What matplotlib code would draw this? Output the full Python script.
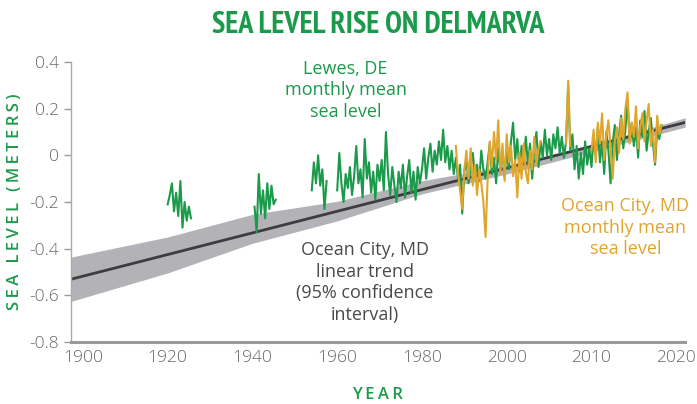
import numpy as np
import matplotlib
matplotlib.use("Agg")
import matplotlib.pyplot as plt
from matplotlib import font_manager

# x positions follow the evenly spaced axis of the original chart
x_ticks = [1900, 1920, 1940, 1960, 1980, 2000, 2020, 2040]
x_labels = ["1900", "1920", "1940", "1960", "1980", "2000", "2010", "2020"]
y_ticks = [0.4, 0.2, 0.0, -0.2, -0.4, -0.6, -0.8]
y_labels = ["0.4", "0.2", "0", "-0.2", "-0.4", "-0.6", "-0.8"]

# Lewes, DE monthly mean sea level (half-step spacing)
lewes_a_start = 1920.0
lewes_a = [-0.21, -0.17, -0.12, -0.24, -0.16, -0.26, -0.11, -0.31, -0.20, -0.28, -0.22, -0.27]
lewes_b_start = 1940.5
lewes_b = [-0.22, -0.33, -0.08, -0.25, -0.15, -0.27, -0.12, -0.23, -0.13, -0.21, -0.19]
lewes_c_start = 1954.0
lewes_c = [-0.15, -0.03, -0.12, 0.00, -0.13, -0.06, -0.23, -0.11]
lewes_d_start = 1960.0
lewes_d = [
    -0.15, 0.01, -0.12, -0.20, -0.08, -0.14, -0.05, -0.17, -0.09, 0.04,
    -0.12, -0.06, -0.18, 0.07, -0.10, -0.03, -0.16, -0.07, -0.19, -0.04,
    -0.11, -0.02, -0.15, 0.10, -0.08, -0.17, -0.05, -0.13, -0.20, -0.07,
    -0.14, -0.04, -0.18, -0.09, -0.02, -0.16, -0.07, -0.19, -0.05, -0.12,
    -0.06, 0.03, -0.10, -0.01, 0.05, -0.07, 0.02, -0.04, 0.06, -0.02,
    0.11, -0.03, 0.04, -0.06, 0.02, -0.08, -0.01, -0.10, -0.04, -0.25,
    -0.07, -0.02, -0.12, -0.05, 0.01, -0.09, -0.04, -0.11, 0.02, -0.06,
    -0.10, -0.03, 0.05, -0.08, -0.01, -0.12, 0.03, -0.06, 0.01, -0.09,
    0.02, -0.06, 0.06, 0.14, -0.02, 0.07, -0.07, 0.04, -0.03, 0.08,
    -0.04, 0.05, -0.10, 0.02, 0.10, -0.05, 0.06, -0.01, 0.11, 0.00,
    0.07, -0.02, 0.09, 0.03, 0.12, 0.01, 0.08, -0.01, 0.06, 0.30,
    0.02, 0.09, -0.06, 0.04, -0.10, 0.01, -0.08, 0.06, -0.04, 0.03,
    -0.05, 0.08, 0.00, 0.12, -0.03, 0.06, -0.08, 0.10, 0.02, -0.12,
    0.05, 0.13, -0.02, 0.09, 0.17, 0.03, 0.11, 0.24, 0.06, 0.14,
    0.04, 0.12, -0.01, 0.15, 0.08, 0.19, 0.02, 0.10, 0.16, 0.05,
    -0.04, 0.11, 0.07, 0.13,
]

# Ocean City, MD monthly mean sea level
ocean_a_start = 1988.0
ocean_a = [
    0.04, -0.08, -0.15, -0.23, -0.06, 0.02, -0.10, 0.03, -0.13, -0.04,
    -0.17, -0.06, -0.12, -0.20, -0.35, -0.10, 0.06, -0.05, 0.10, -0.02,
    0.15, -0.08, 0.05, -0.11, 0.09, -0.03, 0.04, -0.09, -0.02, -0.18,
    0.01, -0.10, 0.05, -0.07, -0.12, 0.02, -0.06, 0.08, -0.04, 0.03,
    0.06,
]
ocean_b_start = 2014.0
ocean_b = [0.05, 0.32, 0.04]
ocean_c_start = 2020.0
ocean_c = [
    0.02, 0.11, -0.03, 0.14, 0.05, 0.18, -0.02, 0.09, 0.15, 0.03,
    -0.10, 0.06, 0.12, 0.01, 0.16, 0.07, 0.20, 0.27, 0.05, 0.14,
    0.08, 0.21, 0.03, 0.12, 0.18, 0.06, 0.15, 0.22, 0.04, 0.11,
    -0.03, 0.17, 0.09, 0.13,
]

# Ocean City linear trend and 95% confidence band
trend_x = [1897.2, 2042.1]
trend_y = [-0.531, 0.141]
band_x = [1897.2, 1920, 1940, 1960, 1980, 2000, 2020, 2042.1]
band_lo = [-0.626, -0.504, -0.377, -0.281, -0.165, -0.080, 0.015, 0.121]
band_hi = [-0.436, -0.350, -0.253, -0.197, -0.109, -0.044, 0.045, 0.161]

GREEN = "#1a9a4a"
ORANGE = "#e0a52b"
GRAY_TXT = "#666666"

plt.rcParams['font.family'] = ['Open Sans', 'DejaVu Sans']

# pick a narrow, heavy face for the title
def weight_num(f):
    w = f.weight
    if isinstance(w, str):
        return font_manager.weight_dict.get(w, 400)
    return w

def name_rank(f):
    if 'Narrow' in f.name:
        return 0
    if 'Condensed' in f.name:
        return 1
    if f.stretch in ('condensed', 'semi-condensed', 'extra-condensed'):
        return 3
    return 9

cands = [f for f in font_manager.fontManager.ttflist
         if name_rank(f) < 9 and f.style == 'normal']
cands.sort(key=lambda f: (name_rank(f), -weight_num(f), f.fname))
if cands:
    title_font = font_manager.FontProperties(fname=cands[0].fname, size=21.8)
else:
    title_font = font_manager.FontProperties(family=['Roboto', 'DejaVu Sans'],
                                             weight='bold', size=17)

fig = plt.figure(figsize=(6.97, 4.04), dpi=100)
ax = fig.add_axes([0.1019, 0.1535, 0.8811, 0.693])

ax.fill_between(band_x, band_lo, band_hi, color="#b3b3b7", lw=0, zorder=1)
ax.plot(trend_x, trend_y, color="#3d3d3f", lw=2.0, zorder=2)

def seg(start, vals):
    return start + 0.5 * np.arange(len(vals)), np.array(vals)

for start, vals in [(lewes_a_start, lewes_a), (lewes_b_start, lewes_b),
                    (lewes_c_start, lewes_c), (lewes_d_start, lewes_d)]:
    xs, ys = seg(start, vals)
    ax.plot(xs, ys, color=GREEN, lw=1.5, zorder=3)

for start, vals in [(ocean_a_start, ocean_a), (ocean_b_start, ocean_b),
                    (ocean_c_start, ocean_c)]:
    xs, ys = seg(start, vals)
    ax.plot(xs, ys, color=ORANGE, lw=1.5, zorder=4)

ax.set_xlim(1897.2, 2042.1)
ax.set_ylim(-0.8, 0.4)
ax.set_xticks(x_ticks)
ax.set_xticklabels(x_labels)
ax.set_yticks(y_ticks)
ax.set_yticklabels(y_labels)
ax.tick_params(axis='x', length=0, pad=6, labelsize=12.5, labelcolor=GRAY_TXT)
ax.tick_params(axis='y', length=5, width=1, color="#999999", pad=4,
               labelsize=12.5, labelcolor=GRAY_TXT)
for lab in ax.get_xticklabels() + ax.get_yticklabels():
    lab.set_fontweight('light')

for s in ['top', 'right']:
    ax.spines[s].set_visible(False)
ax.spines['left'].set_color("#aaaaaa")
ax.spines['left'].set_linewidth(1.0)
ax.spines['bottom'].set_color("#999999")
ax.spines['bottom'].set_linewidth(2.2)

fig.text(0.542, 0.939, "SEA LEVEL RISE ON DELMARVA", ha='center', va='center',
         fontproperties=title_font, color=GREEN)
thin = "\u2009"
fig.text(0.021, 0.5, thin.join("SEA LEVEL (METERS)"), rotation=90,
         ha='center', va='center', fontsize=12, fontweight='semibold', color=GREEN)
fig.text(0.542, 0.022, thin.join("YEAR"), ha='center', va='center',
         fontsize=12, fontweight='semibold', color=GREEN)

ax.text(1962, 0.28, "Lewes, DE\nmonthly mean\nsea level", ha='center', va='center',
        fontsize=13, color=GREEN, linespacing=1.25)
ax.text(1966.5, -0.545, "Ocean City, MD\nlinear trend\n(95% confidence\ninterval)",
        ha='center', va='center', fontsize=13, color="#4a4a4a", linespacing=1.25)
ax.text(2028, -0.31, "Ocean City, MD\nmonthly mean\nsea level", ha='center',
        va='center', fontsize=13, color=ORANGE, linespacing=1.25)

fig.savefig("out.png", dpi=100)
